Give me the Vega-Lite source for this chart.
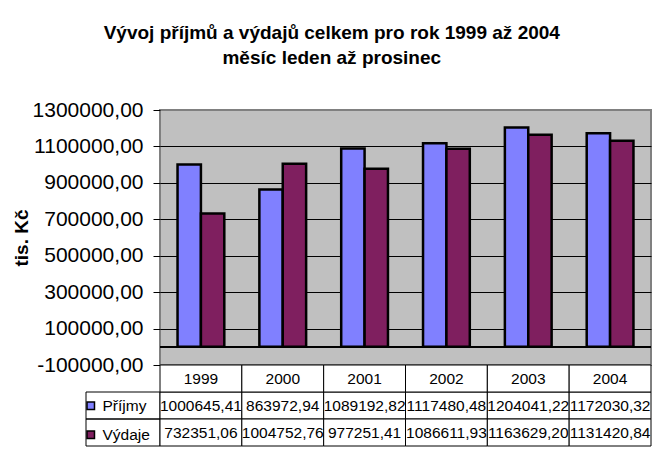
{
  "$schema": "https://vega.github.io/schema/vega-lite/v6.json",
  "padding": {"left": 11, "top": 24, "right": 3, "bottom": 17},
  "background": "white",
  "title": {
    "text": ["Vývoj příjmů a výdajů celkem pro rok 1999 až 2004", "měsíc leden až prosinec"],
    "fontSize": 19, "fontWeight": "bold", "font": "Liberation Sans", "color": "black",
    "lineHeight": 25, "anchor": "middle", "offset": 30
  },
  "datasets": {
    "d": [
      {"rok": "1999", "serie": "Příjmy", "hodnota": 1000645.41},
      {"rok": "2000", "serie": "Příjmy", "hodnota": 863972.94},
      {"rok": "2001", "serie": "Příjmy", "hodnota": 1089192.82},
      {"rok": "2002", "serie": "Příjmy", "hodnota": 1117480.48},
      {"rok": "2003", "serie": "Příjmy", "hodnota": 1204041.22},
      {"rok": "2004", "serie": "Příjmy", "hodnota": 1172030.32},
      {"rok": "1999", "serie": "Výdaje", "hodnota": 732351.06},
      {"rok": "2000", "serie": "Výdaje", "hodnota": 1004752.76},
      {"rok": "2001", "serie": "Výdaje", "hodnota": 977251.41},
      {"rok": "2002", "serie": "Výdaje", "hodnota": 1086611.93},
      {"rok": "2003", "serie": "Výdaje", "hodnota": 1163629.20},
      {"rok": "2004", "serie": "Výdaje", "hodnota": 1131420.84}
    ]
  },
  "columns": 2,
  "spacing": 0,
  "bounds": "flush",
  "resolve": {"scale": {"color": "independent"}, "legend": {"color": "independent"}},
  "concat": [
    {
      "width": 74, "height": 255,
      "data": {"values": []},
      "mark": "point",
      "encoding": {}
    },
    {
      "width": 491, "height": 255,
      "data": {"name": "d"},
      "view": {"fill": "#C0C0C0", "stroke": "#808080", "strokeWidth": 2},
      "layer": [
        {
          "mark": {"type": "bar", "stroke": "black", "strokeWidth": 2.5},
          "encoding": {
            "x": {"field": "rok", "type": "nominal", "scale": {"paddingInner": 0, "paddingOuter": 0}, "axis": null},
            "xOffset": {"field": "serie", "type": "nominal", "sort": ["Příjmy", "Výdaje"], "scale": {"paddingInner": 0, "paddingOuter": 0.75}},
            "y": {
              "field": "hodnota", "type": "quantitative",
              "scale": {"domain": [-100000, 1300000], "nice": false},
              "axis": {
                "title": "tis. Kč", "titleFontSize": 19, "titleFontWeight": "bold", "titleColor": "black", "titlePadding": 1,
                "values": [-100000, 100000, 300000, 500000, 700000, 900000, 1100000, 1300000],
                "tickCount": 20,
                "format": ".2f", "labelFontSize": 21, "labelColor": "black", "labelPadding": 10, "labelOverlap": false,
                "tickSize": 7, "tickColor": "black", "domain": false,
                "grid": true, "gridColor": "black",
                "gridOpacity": {"condition": {"test": "datum.value >= 1300000 || datum.value <= -100000", "value": 0}, "value": 1}
              }
            },
            "color": {
              "field": "serie", "type": "nominal",
              "scale": {"domain": ["Příjmy", "Výdaje"], "range": ["#8080FF", "#7F1F5F"]},
              "legend": {
                "title": null, "orient": "none", "legendX": -77, "legendY": 288,
                "symbolType": "square", "symbolSize": 56, "symbolStrokeColor": "black", "symbolStrokeWidth": 1.5,
                "labelFontSize": 15.5, "labelColor": "black", "labelOffset": 4, "rowPadding": 12, "padding": 0
              }
            }
          }
        },
        {
          "mark": {"type": "rule", "color": "black", "strokeWidth": 1},
          "encoding": {"y": {"datum": 0}}
        }
      ]
    },
    {
      "width": 74, "height": 81,
      "data": {"name": "d"},
      "transform": [{"filter": "datum.rok == '1999'"}],
      "mark": {"type": "rect", "fill": "transparent", "stroke": "black", "strokeWidth": 1},
      "encoding": {
        "y": {"field": "serie", "type": "nominal", "scale": {"domain": ["Rok", "Příjmy", "Výdaje"], "paddingInner": 0, "paddingOuter": 0}, "axis": null}
      }
    },
    {
      "width": 491, "height": 81,
      "data": {"name": "d"},
      "encoding": {
        "x": {"field": "rok", "type": "nominal", "scale": {"paddingInner": 0, "paddingOuter": 0}, "axis": null}
      },
      "layer": [
        {
          "mark": {"type": "rect", "fill": "white", "stroke": "black", "strokeWidth": 1},
          "encoding": {
            "y": {"field": "serie", "type": "nominal", "scale": {"domain": ["Rok", "Příjmy", "Výdaje"], "paddingInner": 0, "paddingOuter": 0}, "axis": null}
          }
        },
        {
          "transform": [{"filter": "datum.serie == 'Příjmy'"}],
          "mark": {"type": "rect", "fill": "white", "stroke": "black", "strokeWidth": 1},
          "encoding": {"y": {"datum": "Rok", "type": "nominal"}}
        },
        {
          "mark": {"type": "text", "fontSize": 15.5, "color": "black", "baseline": "middle", "align": "center"},
          "encoding": {
            "y": {"field": "serie", "type": "nominal"},
            "text": {"field": "hodnota", "type": "quantitative", "format": ".2f"}
          }
        },
        {
          "transform": [{"filter": "datum.serie == 'Příjmy'"}],
          "mark": {"type": "text", "fontSize": 15.5, "color": "black", "baseline": "middle", "align": "center"},
          "encoding": {
            "y": {"datum": "Rok", "type": "nominal"},
            "text": {"field": "rok", "type": "nominal"}
          }
        }
      ]
    }
  ],
  "config": {
    "font": "Liberation Sans",
    "view": {"stroke": null},
    "locale": {"number": {"decimal": ",", "thousands": " ", "grouping": [3], "currency": ["", " Kč"], "minus": "-"}}
  }
}
